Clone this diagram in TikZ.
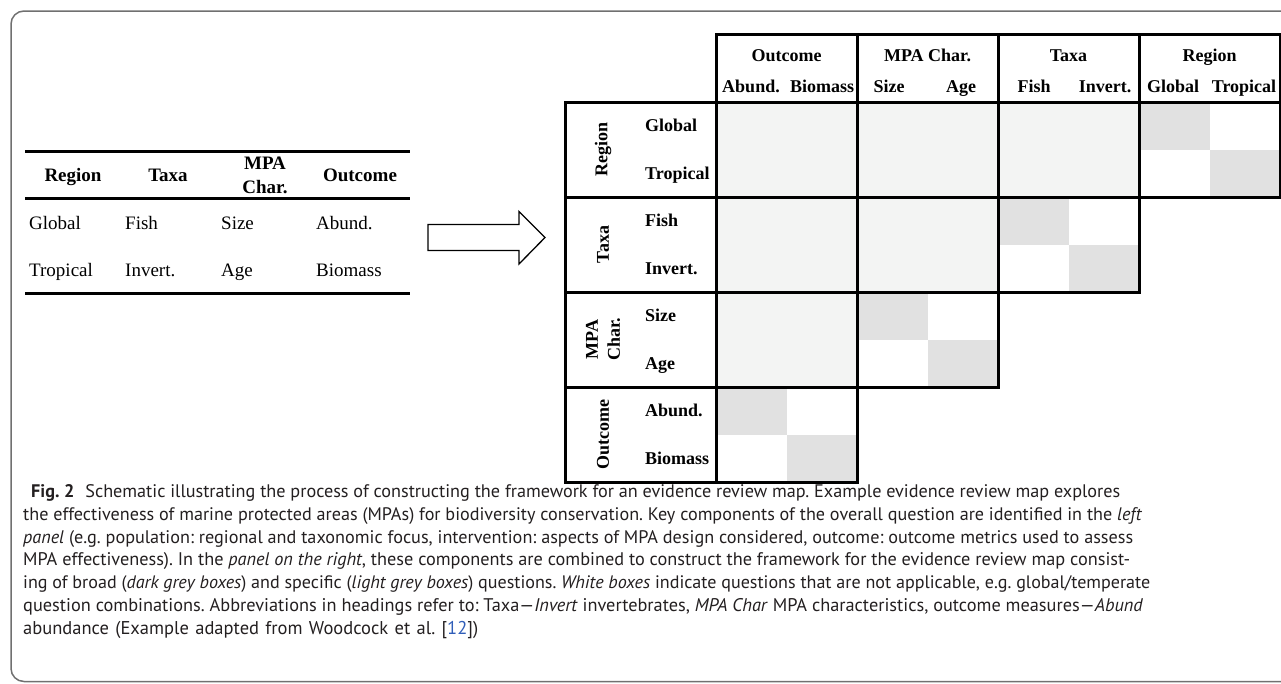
\documentclass[tikz,border=0pt]{standalone}
\usepackage{fontspec}
\setmainfont{Liberation Serif}
\newfontfamily\capfont{PT Sans}
\usepackage{graphicx}
\definecolor{framegray}{HTML}{707070}
\definecolor{lightcell}{HTML}{F3F4F3}
\definecolor{darkcell}{HTML}{E1E1E1}
\definecolor{linkblue}{HTML}{2F5DB8}
\definecolor{captext}{HTML}{231F20}
\newsavebox\capbox
\newcommand\capline[2]{\sbox\capbox{#2}\ifdim\wd\capbox>#1\relax\resizebox{#1}{!}{\usebox\capbox}\else\makebox[#1][s]{#2}\fi}
\frenchspacing
\tikzset{
  tabtext/.style={font=\fontsize{19}{24}\selectfont, inner sep=0pt},
  tabhead/.style={font=\bfseries\fontsize{19}{24}\selectfont, inner sep=0pt, align=center},
  mtext/.style={font=\bfseries\fontsize{18}{21}\selectfont, inner sep=0pt, align=center},
  rule/.style={line width=3pt, black},
  mline/.style={line width=3pt, black},
  capnode/.style={font=\capfont\fontsize{18.5}{22}\selectfont, text=captext, inner sep=0pt, anchor=base west}
}
\begin{document}
\begin{tikzpicture}[x=1pt,y=-1pt]
\useasboundingbox (0,0) rectangle (1281,683);
% frame
\draw[framegray, line width=1.5pt, rounded corners=13pt] (11,11) rectangle (1310,681.5);

% ---------- left table ----------
\draw[rule] (25,151) -- (410,151);
\draw[rule] (25,198) -- (410,198);
\draw[rule] (25,293) -- (410,293);
\node[tabhead, anchor=base] (hReg) at (73,181) {Region};
\node[tabhead, anchor=base] (hTax) at (168,181) {Taxa};
\node[tabhead] (hMPA) at (265,175) {MPA\\Char.};
\node[tabhead, anchor=base] (hOut) at (360,181) {Outcome};
\node[tabtext, anchor=base west] (tGlobal) at (29,229) {Global};
\node[tabtext, anchor=base west] (tFish) at (125,229) {Fish};
\node[tabtext, anchor=base west] (tSize) at (221,229) {Size};
\node[tabtext, anchor=base west] (tAbund) at (316,229) {Abund.};
\node[tabtext, anchor=base west] (tTrop) at (29,276) {Tropical};
\node[tabtext, anchor=base west] (tInv) at (125,276) {Invert.};
\node[tabtext, anchor=base west] (tAge) at (221,276) {Age};
\node[tabtext, anchor=base west] (tBio) at (316,276) {Biomass};

% ---------- block arrow ----------
\draw[black, line width=1.3pt, fill=white, line join=miter]
  (428,224.5) -- (519,224.5) -- (519,211.5) -- (545,237.5) -- (519,264) -- (519,250.5) -- (428,250.5) -- cycle;

% ---------- matrix fills ----------
% column group x: 716, 857, 998, 1139, 1280 ; row group y: 102, 197, 292, 387, 482
\foreach \i/\y in {0/102,1/197,2/292,3/387}{
  \pgfmathtruncatemacro\jmax{3-\i}
  \foreach \j in {0,...,\jmax}{
    \pgfmathsetmacro\x{716+141*\j}
    \ifnum\j<\jmax
      \fill[lightcell] (\x,\y) rectangle ++(141,95);
    \else
      \fill[darkcell] (\x,\y) rectangle ++(70.5,47.5);
      \fill[darkcell] (\x+70.5,\y+47.5) rectangle ++(70.5,47.5);
    \fi
  }
}
% ---------- matrix borders ----------
\foreach \i/\y in {0/102,1/197,2/292,3/387}{
  \draw[mline] (565,\y) rectangle ++(151,95);
  \pgfmathtruncatemacro\jmax{3-\i}
  \foreach \j in {0,...,\jmax}{
    \pgfmathsetmacro\x{716+141*\j}
    \draw[mline] (\x,\y) rectangle ++(141,95);
  }
}
\draw[mline] (716,102) -- (716,34) -- (1280,34) -- (1280,102);
\foreach \x in {857,998,1139}{ \draw[mline] (\x,34) -- (\x,102); }

% header texts
\node[mtext, anchor=base] (cOut) at (786.5,61) {Outcome};
\node[mtext, anchor=base] (cMPA) at (927.5,61) {MPA Char.};
\node[mtext, anchor=base] (cTax) at (1068.5,61) {Taxa};
\node[mtext, anchor=base] (cReg) at (1209.5,61) {Region};
\node[mtext, anchor=base] (cAbund) at (751,92) {Abund.};
\node[mtext, anchor=base] (cBio) at (822,92) {Biomass};
\node[mtext, anchor=base] (cSize) at (889,92) {Size};
\node[mtext, anchor=base] (cAge) at (961,92) {Age};
\node[mtext, anchor=base] (cFish) at (1034,92) {Fish};
\node[mtext, anchor=base] (cInv) at (1105,92) {Invert.};
\node[mtext, anchor=base] (cGlob) at (1173,92) {Global};
\node[mtext, anchor=base] (cTrop) at (1244,92) {Tropical};

% row group labels
\node[mtext, rotate=90] (rReg) at (603,149.5) {Region};
\node[mtext, rotate=90] (rTax) at (603,244.5) {Taxa};
\node[mtext, rotate=90, font=\bfseries\fontsize{18}{22}\selectfont] (rMPA) at (603,339.5) {MPA\\Char.};
\node[mtext, rotate=90] (rOut) at (603,434.5) {Outcome};
% row sub labels
\node[mtext, anchor=base west] (sGlob) at (645,131.75) {Global};
\node[mtext, anchor=base west] (sTrop) at (645,179.25) {Tropical};
\node[mtext, anchor=base west] (sFish) at (645,226.75) {Fish};
\node[mtext, anchor=base west] (sInv) at (645,274.25) {Invert.};
\node[mtext, anchor=base west] (sSize) at (645,321.75) {Size};
\node[mtext, anchor=base west] (sAge) at (645,369.25) {Age};
\node[mtext, anchor=base west] (sAbund) at (645,416.75) {Abund.};
\node[mtext, anchor=base west] (sBio) at (645,464.25) {Biomass};

% ---------- caption ----------
\node[capnode] (cap1) at (31,497.5) {\capline{1089pt}{\textbf{Fig.~2}\hspace{0.6em}Schematic illustrating the process of constructing the framework for an evidence review map. Example evidence review map explores}};
\node[capnode] (cap2) at (23,520.3) {\capline{1119pt}{the effectiveness of marine protected areas (MPAs) for biodiversity conservation. Key components of the overall question are identified in the \textit{left}}};
\node[capnode] (cap3) at (23,543.1) {\capline{1110pt}{\textit{panel} (e.g. population: regional and taxonomic focus, intervention: aspects of MPA design considered, outcome: outcome metrics used to assess}};
\node[capnode] (cap4) at (23,565.9) {\capline{1107pt}{MPA effectiveness). In the \textit{panel on the right}, these components are combined to construct the framework for the evidence review map consist-}};
\node[capnode] (cap5) at (23,588.7) {\capline{1127pt}{ing of broad (\textit{dark grey boxes}) and specific (\textit{light grey boxes}) questions. \textit{White boxes} indicate questions that are not applicable, e.g. global/temperate}};
\node[capnode] (cap6) at (23,611.5) {\capline{1120pt}{question combinations. Abbreviations in headings refer to: Taxa—\textit{Invert} invertebrates, \textit{MPA Char} MPA characteristics, outcome measures—\textit{Abund}}};
\node[capnode] (cap7) at (23,634.3) {\capline{455pt}{abundance (Example adapted from Woodcock et al. [{\color{linkblue}12}])}};
\end{tikzpicture}
\end{document}
